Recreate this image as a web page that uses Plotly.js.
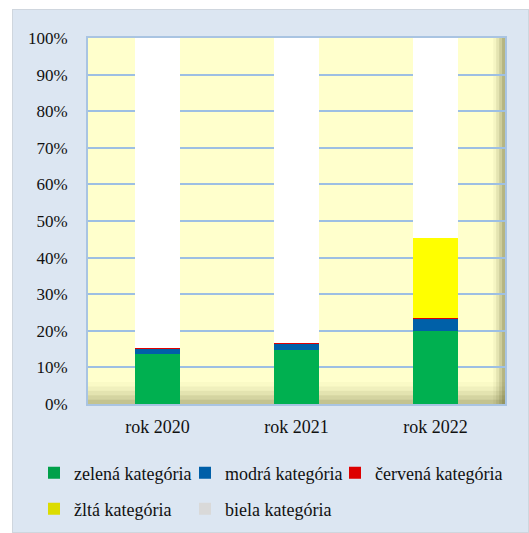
<!DOCTYPE html>
<html><head><meta charset="utf-8">
<script src="https://cdn.plot.ly/plotly-3.0.1.min.js"></script>
<style>
html,body{margin:0;padding:0;background:#fff;}
#bg{position:absolute;left:12px;top:9px;width:515px;height:522px;background:#DCE6F2;border:1px solid #cfd6de;}
#chart{position:absolute;left:0;top:0;width:529px;height:533px;}
</style></head>
<body>
<div id="bg"></div>
<div id="chart"></div>
<script>
const categories = ['rok 2020', 'rok 2021', 'rok 2022'];
const seriesNames = ['zelená kategória', 'modrá kategória', 'červená kategória', 'žltá kategória', 'biela kategória'];
const zelena = [13.6, 14.7, 19.9];
const modra = [1.4, 1.8, 3.2];
const cervena = [0.3, 0.3, 0.4];
const zlta = [0, 0, 21.9];
const biela = [84.7, 83.2, 54.6];
const yTicks = [0, 10, 20, 30, 40, 50, 60, 70, 80, 90, 100];

const colors = ['#00B050', '#0060A8', '#E00000', '#FFFF00', '#FFFFFF'];
const legendColors = ['#00A04A', '#005FA8', '#DD0000', '#DCDC00', '#D9D9D9'];
const legendIds = ['legend', 'legend2', 'legend3', 'legend4', 'legend5'];
// legend entry positions in px (left, row centre)
const legendPos = [[34, 473], [185, 473], [335, 473], [34, 509], [185, 509]];
const values = [zelena, modra, cervena, zlta, biela];

const traces = values.map((v, i) => ({
  type: 'bar',
  name: seriesNames[i],
  x: categories,
  y: v,
  marker: {color: colors[i], line: {width: 0}},
  showlegend: false,
  hoverinfo: 'skip'
}));
seriesNames.forEach((n, i) => traces.push({
  type: 'bar', name: n, x: [categories[0]], y: [null],
  marker: {color: legendColors[i], line: {width: 0}},
  legend: legendIds[i], showlegend: true, hoverinfo: 'skip'
}));

const fam = 'Times New Roman, Liberation Serif, serif';
const font = {family: fam, size: 18, color: '#111'};
const yfont = {family: fam, size: 17, color: '#111'};

const shapes = [];
const steps = [[0, 1.2, 0.36], [1.2, 2.4, 0.26], [2.4, 3.6, 0.17], [3.6, 4.8, 0.09], [4.8, 6, 0.03]];
steps.forEach(s => shapes.push({type: 'rect', xref: 'paper', yref: 'y', x0: 0, x1: 1, y0: s[0], y1: s[1],
  fillcolor: 'rgba(90,90,40,' + s[2] + ')', line: {width: 0}, layer: 'below'}));
const rsteps = [[0.993, 1, 0.45], [0.986, 0.993, 0.3], [0.979, 0.986, 0.16], [0.972, 0.979, 0.06]];
rsteps.forEach(s => shapes.push({type: 'rect', xref: 'paper', yref: 'paper', x0: s[0], x1: s[1], y0: 0, y1: 1,
  fillcolor: 'rgba(90,90,40,' + s[2] + ')', line: {width: 0}, layer: 'below'}));

const layout = {
  width: 529, height: 533,
  barmode: 'stack',
  bargap: 0.68,
  paper_bgcolor: 'rgba(0,0,0,0)',
  plot_bgcolor: '#FFFFCC',
  font: font,
  margin: {l: 88, r: 24, t: 38, b: 129, autoexpand: false},
  showlegend: true,
  shapes: shapes,
  xaxis: {
    type: 'category',
    showgrid: false,
    showline: true, linecolor: '#A9C4E2', linewidth: 2, mirror: true,
    ticks: '', ticklabelstandoff: 5,
    tickfont: font
  },
  yaxis: {
    range: [0, 100],
    tickvals: yTicks,
    ticktext: yTicks.map(t => t + '%'),
    showgrid: true, gridcolor: '#9DBFE3', gridwidth: 2,
    showline: true, linecolor: '#A9C4E2', linewidth: 2, mirror: true,
    zeroline: false,
    ticks: '', ticklabelstandoff: 15,
    tickfont: yfont
  }
};
legendIds.forEach((id, i) => {
  layout[id] = {
    orientation: 'v',
    xref: 'container', yref: 'container',
    x: legendPos[i][0] / 529, y: 1 - legendPos[i][1] / 533,
    xanchor: 'left', yanchor: 'middle',
    itemwidth: 30,
    font: font,
    bgcolor: 'rgba(0,0,0,0)'
  };
});

Plotly.newPlot('chart', traces, layout, {displayModeBar: false, staticPlot: true});
</script>
</body></html>
